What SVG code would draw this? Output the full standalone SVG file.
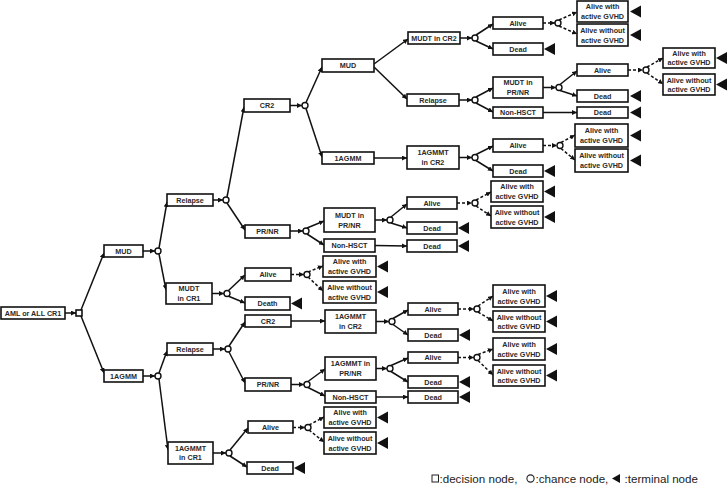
<svg xmlns="http://www.w3.org/2000/svg" width="727" height="485" viewBox="0 0 727 485">
<style>
.b{fill:#fff;stroke:#111;stroke-width:1.6}
.t{font-family:"Liberation Sans",Arial,sans-serif;font-weight:bold;font-size:7.2px;text-anchor:middle;fill:#2a2a2a}
.c{fill:#fff;stroke:#111;stroke-width:1.4}
.e{fill:none;stroke:#111;stroke-width:1.5;marker-end:url(#a)}
.d{fill:none;stroke:#111;stroke-width:1.5;stroke-dasharray:3 2;marker-end:url(#a)}
.tr{fill:#111}
.lg{font-family:"Liberation Sans",Arial,sans-serif;font-size:11.6px;fill:#222}
</style>
<defs>
<marker id="a" viewBox="0 0 6 6" refX="6" refY="3" markerWidth="5" markerHeight="5" orient="auto" markerUnits="userSpaceOnUse"><path d="M0,0L6,3L0,6z" fill="#111"/></marker>
</defs>
<rect width="727" height="485" fill="#fff"/>

<g id="connectors">
<path class="e" d="M65,313L76,313"/>
<path class="e" d="M81,310L104,253"/>
<path class="e" d="M81,316L104,373"/>
<path class="e" d="M143,251L155,251"/>
<path class="e" d="M143,376L155,376"/>
<path class="e" d="M159,248L167,202"/>
<path class="e" d="M159,254L166,290"/>
<path class="e" d="M159,373L167,351"/>
<path class="e" d="M159,379L168,450"/>
<path class="e" d="M213,200L223,200"/>
<path class="e" d="M212,293.5L224,293.5"/>
<path class="e" d="M213,349L225,349"/>
<path class="e" d="M213,453L226,453"/>
<path class="e" d="M227,197L244,107"/>
<path class="e" d="M227,203L245,230"/>
<path class="e" d="M228,291L245,275"/>
<path class="e" d="M228,296L245,303"/>
<path class="e" d="M229,346L245,322"/>
<path class="e" d="M229,352L245,383"/>
<path class="e" d="M230,450L248,428"/>
<path class="e" d="M230,456L247,467"/>
<path class="e" d="M290,105.5L302,105.5"/>
<path class="e" d="M290,231L303,231"/>
<path class="d" d="M291,274.5L304,274.5"/>
<path class="e" d="M291,384.5L304,384.5"/>
<path class="d" d="M293,427.5L305,427.5"/>
<path class="e" d="M291,321L325,321"/>
<path class="e" d="M306,102.5L322,67"/>
<path class="e" d="M306,108.5L322,157"/>
<path class="e" d="M307,228L324,221"/>
<path class="e" d="M307,234L324,245"/>
<path class="d" d="M308,272L323,266"/>
<path class="d" d="M308,277L323,291"/>
<path class="e" d="M308,381.5L325,369"/>
<path class="e" d="M308,387.5L325,396"/>
<path class="d" d="M309,425L324,417"/>
<path class="d" d="M309,430L324,442"/>
<path class="e" d="M374,64L408,39"/>
<path class="e" d="M374,67L407,99"/>
<path class="e" d="M374,158L407,158"/>
<path class="e" d="M375,220L387,220"/>
<path class="e" d="M375,245.5L407,246"/>
<path class="e" d="M376,321.5L389,321.5"/>
<path class="e" d="M376,368.5L387,368.5"/>
<path class="e" d="M376,397L408,397"/>
<path class="e" d="M391,217L407,204"/>
<path class="e" d="M391,223L407,228"/>
<path class="e" d="M393,318.5L408,310"/>
<path class="e" d="M393,324.5L408,335"/>
<path class="e" d="M391,365.5L408,358"/>
<path class="e" d="M391,371.5L408,382"/>
<path class="e" d="M460,38L472,38"/>
<path class="e" d="M459,100L472,100"/>
<path class="e" d="M459,157.5L472,157.5"/>
<path class="d" d="M457,203L472,203"/>
<path class="d" d="M458,309L474,309"/>
<path class="d" d="M458,357.5L474,357.5"/>
<path class="e" d="M476,35L493,24"/>
<path class="e" d="M476,41L493,49"/>
<path class="e" d="M476,97L493,88"/>
<path class="e" d="M476,103L493,112"/>
<path class="e" d="M476,154.5L493,146"/>
<path class="e" d="M476,160.5L493,171"/>
<path class="d" d="M476,200L491,192"/>
<path class="d" d="M476,206L491,216"/>
<path class="d" d="M478,306L493,296"/>
<path class="d" d="M478,312L493,321"/>
<path class="d" d="M478,354.5L493,349"/>
<path class="d" d="M478,360.5L493,375"/>
<path class="d" d="M543,23L555,23"/>
<path class="e" d="M543,87.5L556,87.5"/>
<path class="e" d="M543,112.5L577,112.5"/>
<path class="d" d="M543,145.5L557,145.5"/>
<path class="d" d="M559,20L577,12"/>
<path class="d" d="M559,26L577,34"/>
<path class="e" d="M560,84.5L577,71"/>
<path class="e" d="M560,90.5L577,96"/>
<path class="d" d="M561,142.5L575,135"/>
<path class="d" d="M561,148.5L575,160"/>
<path class="d" d="M628,70L643,70"/>
<path class="d" d="M647,67L663,58"/>
<path class="d" d="M647,73L663,84"/>
</g>

<g id="decision"><rect class="b" x="76" y="310" width="6" height="6"/></g>
<g id="chance">
<circle class="c" cx="158" cy="251" r="3"/>
<circle class="c" cx="158" cy="376" r="3"/>
<circle class="c" cx="226" cy="200" r="3"/>
<circle class="c" cx="227" cy="293.5" r="3"/>
<circle class="c" cx="228" cy="349" r="3"/>
<circle class="c" cx="229" cy="453" r="3"/>
<circle class="c" cx="305" cy="105.5" r="3"/>
<circle class="c" cx="306" cy="231" r="3"/>
<circle class="c" cx="307" cy="274.5" r="3"/>
<circle class="c" cx="307" cy="384.5" r="3"/>
<circle class="c" cx="308" cy="427.5" r="3"/>
<circle class="c" cx="390" cy="220" r="3"/>
<circle class="c" cx="392" cy="321.5" r="3"/>
<circle class="c" cx="390" cy="368.5" r="3"/>
<circle class="c" cx="475" cy="38" r="3"/>
<circle class="c" cx="475" cy="100" r="3"/>
<circle class="c" cx="475" cy="157.5" r="3"/>
<circle class="c" cx="475" cy="203" r="3"/>
<circle class="c" cx="477" cy="309" r="3"/>
<circle class="c" cx="477" cy="357.5" r="3"/>
<circle class="c" cx="558" cy="23" r="3"/>
<circle class="c" cx="559" cy="87.5" r="3"/>
<circle class="c" cx="560" cy="145.5" r="3"/>
<circle class="c" cx="646" cy="70" r="3"/>
</g>

<g id="terminals" class="tr">
<polygon points="291,303.5 302,297.5 302,309.5"/>
<polygon points="294,468 305,462 305,474"/>
<polygon points="377,266.5 388,260.5 388,272.5"/>
<polygon points="377,292 388,286 388,298"/>
<polygon points="377,417.5 388,411.5 388,423.5"/>
<polygon points="377,443 388,437 388,449"/>
<polygon points="458,228 469,222 469,234"/>
<polygon points="458,246 469,240 469,252"/>
<polygon points="459,335 470,329 470,341"/>
<polygon points="459,382 470,376 470,388"/>
<polygon points="459,397 470,391 470,403"/>
<polygon points="544,49 555,43 555,55"/>
<polygon points="544,171 555,165 555,177"/>
<polygon points="544,191.5 555,185.5 555,197.5"/>
<polygon points="544,217 555,211 555,223"/>
<polygon points="546,296 557,290 557,302"/>
<polygon points="546,321.5 557,315.5 557,327.5"/>
<polygon points="546,349 557,343 557,355"/>
<polygon points="546,375.5 557,369.5 557,381.5"/>
<polygon points="630,11.5 641,5.5 641,17.5"/>
<polygon points="630,35 641,29 641,41"/>
<polygon points="630,96 641,90 641,102"/>
<polygon points="630,112.5 641,106.5 641,118.5"/>
<polygon points="630,135.5 641,129.5 641,141.5"/>
<polygon points="630,160.5 641,154.5 641,166.5"/>
<polygon points="716,58 727,52 727,64"/>
<polygon points="716,84.5 727,78.5 727,90.5"/>
</g>

<g id="n-root"><rect class="b" x="1" y="307" width="64" height="12"/><text class="t" x="33" y="315.5">AML or ALL CR1</text></g>
<g id="n-mud"><rect class="b" x="104" y="245" width="39" height="12"/><text class="t" x="123.5" y="253.5">MUD</text></g>
<g id="n-1agmm"><rect class="b" x="104" y="370" width="39" height="12"/><text class="t" x="123.5" y="378.5">1AGMM</text></g>
<g id="n-relapse1"><rect class="b" x="167" y="194" width="46" height="12"/><text class="t" x="190" y="202.5">Relapse</text></g>
<g id="n-mudtcr1"><rect class="b" x="166" y="283" width="46" height="21"/><text class="t" x="189"><tspan x="189" y="291">MUDT</tspan><tspan x="189" y="300.5">in CR1</tspan></text></g>
<g id="n-relapse2"><rect class="b" x="167" y="343" width="46" height="12"/><text class="t" x="190" y="351.5">Relapse</text></g>
<g id="n-1agmmtcr1"><rect class="b" x="168" y="442" width="45" height="22"/><text class="t"><tspan x="190.5" y="450.5">1AGMMT</tspan><tspan x="190.5" y="460">in CR1</tspan></text></g>

<g id="n-cr2a"><rect class="b" x="244" y="99" width="46" height="13"/><text class="t" x="267" y="108">CR2</text></g>
<g id="n-prnra"><rect class="b" x="245" y="225" width="45" height="13"/><text class="t" x="267.5" y="234">PR/NR</text></g>
<g id="n-alive1"><rect class="b" x="245" y="268" width="46" height="13"/><text class="t" x="268" y="277">Alive</text></g>
<g id="n-death"><rect class="b" x="245" y="297" width="45" height="13"/><text class="t" x="267.5" y="306">Death</text></g>
<g id="n-cr2b"><rect class="b" x="245" y="315" width="46" height="12"/><text class="t" x="268" y="323.5">CR2</text></g>
<g id="n-prnrb"><rect class="b" x="245" y="378" width="46" height="13"/><text class="t" x="268" y="387">PR/NR</text></g>
<g id="n-alive2"><rect class="b" x="248" y="421" width="45" height="12"/><text class="t" x="270.5" y="429.5">Alive</text></g>
<g id="n-dead1"><rect class="b" x="247" y="462" width="46" height="12"/><text class="t" x="270" y="470.5">Dead</text></g>

<g id="n-mud2"><rect class="b" x="322" y="59" width="52" height="13"/><text class="t" x="348" y="68">MUD</text></g>
<g id="n-1agmm2"><rect class="b" x="322" y="152" width="52" height="12"/><text class="t" x="348" y="160.5">1AGMM</text></g>
<g id="n-mudtprnr1"><rect class="b" x="324" y="208" width="51" height="24"/><text class="t"><tspan x="349.5" y="217.5">MUDT in</tspan><tspan x="349.5" y="227.5">PR/NR</tspan></text></g>
<g id="n-nonhsct1"><rect class="b" x="324" y="239" width="51" height="13"/><text class="t" x="349.5" y="248">Non-HSCT</text></g>
<g id="n-awg1"><rect class="b" x="323" y="256" width="53" height="21"/><text class="t"><tspan x="349.5" y="264">Alive with</tspan><tspan x="349.5" y="273.5">active GVHD</tspan></text></g>
<g id="n-awog1"><rect class="b" x="323" y="281" width="53" height="22"/><text class="t"><tspan x="349.5" y="290">Alive without</tspan><tspan x="349.5" y="299.5">active GVHD</tspan></text></g>
<g id="n-1agmmtcr2b"><rect class="b" x="325" y="310" width="51" height="23"/><text class="t"><tspan x="350.5" y="319">1AGMMT</tspan><tspan x="350.5" y="328.5">in CR2</tspan></text></g>
<g id="n-1agmmtprnr"><rect class="b" x="325" y="357" width="51" height="23"/><text class="t"><tspan x="350.5" y="366">1AGMMT in</tspan><tspan x="350.5" y="375.5">PR/NR</tspan></text></g>
<g id="n-nonhsct2"><rect class="b" x="325" y="391" width="51" height="12"/><text class="t" x="350.5" y="399.5">Non-HSCT</text></g>
<g id="n-awg2"><rect class="b" x="324" y="407" width="52" height="21"/><text class="t"><tspan x="350" y="415">Alive with</tspan><tspan x="350" y="424.5">active GVHD</tspan></text></g>
<g id="n-awog2"><rect class="b" x="324" y="432" width="52" height="22"/><text class="t"><tspan x="350" y="441">Alive without</tspan><tspan x="350" y="450.5">active GVHD</tspan></text></g>

<g id="n-mudtcr2"><rect class="b" x="408" y="32" width="52" height="12"/><text class="t" x="434" y="40.5">MUDT in CR2</text></g>
<g id="n-relapse3"><rect class="b" x="407" y="94" width="52" height="12"/><text class="t" x="433" y="102.5">Relapse</text></g>
<g id="n-1agmmtcr2a"><rect class="b" x="407" y="146" width="52" height="23"/><text class="t"><tspan x="433" y="155">1AGMMT</tspan><tspan x="433" y="164.5">in CR2</tspan></text></g>
<g id="n-alive3"><rect class="b" x="407" y="197" width="50" height="12"/><text class="t" x="432" y="205.5">Alive</text></g>
<g id="n-dead2"><rect class="b" x="407" y="222" width="50" height="12"/><text class="t" x="432" y="230.5">Dead</text></g>
<g id="n-dead3"><rect class="b" x="407" y="240" width="50" height="12"/><text class="t" x="432" y="248.5">Dead</text></g>
<g id="n-alive4"><rect class="b" x="408" y="303" width="50" height="12"/><text class="t" x="433" y="311.5">Alive</text></g>
<g id="n-dead4"><rect class="b" x="408" y="329" width="50" height="12"/><text class="t" x="433" y="337.5">Dead</text></g>
<g id="n-alive5"><rect class="b" x="408" y="352" width="50" height="11"/><text class="t" x="433" y="360">Alive</text></g>
<g id="n-dead5"><rect class="b" x="408" y="376" width="50" height="12"/><text class="t" x="433" y="384.5">Dead</text></g>
<g id="n-dead6"><rect class="b" x="408" y="391" width="50" height="12"/><text class="t" x="433" y="399.5">Dead</text></g>

<g id="n-alive6"><rect class="b" x="493" y="17" width="50" height="12"/><text class="t" x="518" y="25.5">Alive</text></g>
<g id="n-dead7"><rect class="b" x="493" y="43" width="50" height="12"/><text class="t" x="518" y="51.5">Dead</text></g>
<g id="n-mudtprnr2"><rect class="b" x="493" y="77" width="50" height="21"/><text class="t"><tspan x="518" y="85">MUDT in</tspan><tspan x="518" y="94.5">PR/NR</tspan></text></g>
<g id="n-nonhsct3"><rect class="b" x="493" y="107" width="50" height="11"/><text class="t" x="518" y="115">Non-HSCT</text></g>
<g id="n-alive7"><rect class="b" x="493" y="139" width="50" height="13"/><text class="t" x="518" y="148">Alive</text></g>
<g id="n-dead8"><rect class="b" x="493" y="165" width="50" height="12"/><text class="t" x="518" y="173.5">Dead</text></g>
<g id="n-awg3"><rect class="b" x="491" y="181" width="52" height="21"/><text class="t"><tspan x="517" y="189">Alive with</tspan><tspan x="517" y="198.5">active GVHD</tspan></text></g>
<g id="n-awog3"><rect class="b" x="491" y="206" width="52" height="22"/><text class="t"><tspan x="517" y="215">Alive without</tspan><tspan x="517" y="224.5">active GVHD</tspan></text></g>
<g id="n-awg4"><rect class="b" x="493" y="285" width="52" height="22"/><text class="t"><tspan x="519" y="294">Alive with</tspan><tspan x="519" y="303.5">active GVHD</tspan></text></g>
<g id="n-awog4"><rect class="b" x="493" y="311" width="52" height="21"/><text class="t"><tspan x="519" y="319.5">Alive without</tspan><tspan x="519" y="329">active GVHD</tspan></text></g>
<g id="n-awg5"><rect class="b" x="493" y="338" width="52" height="22"/><text class="t"><tspan x="519" y="347">Alive with</tspan><tspan x="519" y="356.5">active GVHD</tspan></text></g>
<g id="n-awog5"><rect class="b" x="493" y="365" width="52" height="21"/><text class="t"><tspan x="519" y="373.5">Alive without</tspan><tspan x="519" y="383">active GVHD</tspan></text></g>

<g id="n-awg6"><rect class="b" x="577" y="1" width="51" height="21"/><text class="t"><tspan x="602.5" y="9">Alive with</tspan><tspan x="602.5" y="18.5">active GVHD</tspan></text></g>
<g id="n-awog6"><rect class="b" x="577" y="24" width="51" height="22"/><text class="t"><tspan x="602.5" y="33">Alive without</tspan><tspan x="602.5" y="42.5">active GVHD</tspan></text></g>
<g id="n-alive8"><rect class="b" x="577" y="64" width="51" height="12"/><text class="t" x="602.5" y="72.5">Alive</text></g>
<g id="n-dead9"><rect class="b" x="577" y="90" width="51" height="12"/><text class="t" x="602.5" y="98.5">Dead</text></g>
<g id="n-dead10"><rect class="b" x="577" y="107" width="51" height="11"/><text class="t" x="602.5" y="115">Dead</text></g>
<g id="n-awg7"><rect class="b" x="575" y="124" width="53" height="23"/><text class="t"><tspan x="601.5" y="133">Alive with</tspan><tspan x="601.5" y="142.5">active GVHD</tspan></text></g>
<g id="n-awog7"><rect class="b" x="575" y="149" width="53" height="23"/><text class="t"><tspan x="601.5" y="158">Alive without</tspan><tspan x="601.5" y="167.5">active GVHD</tspan></text></g>
<g id="n-awg8"><rect class="b" x="663" y="48" width="52" height="20"/><text class="t"><tspan x="689" y="55.5">Alive with</tspan><tspan x="689" y="65">active GVHD</tspan></text></g>
<g id="n-awog8"><rect class="b" x="663" y="74" width="52" height="21"/><text class="t"><tspan x="689" y="82.5">Alive without</tspan><tspan x="689" y="92">active GVHD</tspan></text></g>

<g id="legend">
<rect x="432" y="475" width="6.5" height="7" fill="#fff" stroke="#222" stroke-width="1"/>
<text class="lg" x="439.5" y="483">:decision node,</text>
<circle cx="530.5" cy="478.5" r="3.6" fill="#fff" stroke="#222" stroke-width="1.1"/>
<text class="lg" x="535.5" y="483">:chance node,</text>
<polygon points="612,478.5 620,474 620,483" fill="#111"/>
<text class="lg" x="624.5" y="483">:terminal node</text>
</g>
</svg>
